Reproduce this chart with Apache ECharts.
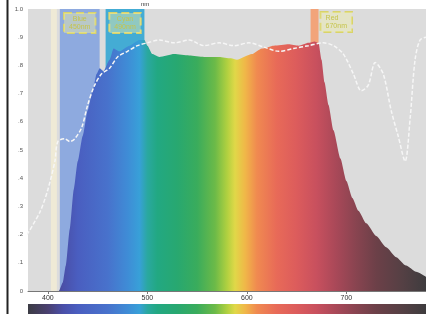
<!DOCTYPE html>
<html>
<head>
<meta charset="utf-8">
<script src="https://cdn.jsdelivr.net/npm/echarts@6/dist/echarts.min.js"></script>
<style>
  html, body { margin: 0; padding: 0; background: #fff; }
  #chart { width: 426px; height: 314px; }
</style>
</head>
<body>
<div id="chart"></div>
<script>
// spectrum (coloured area)
const specNm = [380, 405, 411, 415, 418, 422, 426, 430, 435, 440, 445, 449, 452, 456, 462, 466, 472, 482, 492, 497, 500, 505, 512, 527, 542, 557, 572, 584, 590, 605, 615, 627, 642, 652, 662, 668, 672, 675, 678, 682, 687, 694, 700, 706, 712, 720, 730, 740, 750, 760, 770, 780];
const specVal = [0, 0, 0, 0.03, 0.09, 0.22, 0.36, 0.46, 0.55, 0.64, 0.71, 0.77, 0.79, 0.78, 0.82, 0.86, 0.85, 0.87, 0.89, 0.89, 0.87, 0.84, 0.83, 0.84, 0.835, 0.83, 0.83, 0.825, 0.82, 0.84, 0.86, 0.87, 0.875, 0.87, 0.88, 0.885, 0.88, 0.82, 0.74, 0.66, 0.57, 0.47, 0.39, 0.33, 0.285, 0.24, 0.195, 0.155, 0.12, 0.09, 0.068, 0.05];

// reference curve (white dashed)
const refNm = [379, 392, 400, 407, 410, 417, 422, 427, 434, 440, 447, 454, 462, 470, 480, 490, 500, 512, 527, 542, 557, 572, 587, 602, 617, 632, 647, 662, 677, 687, 697, 707, 715, 722, 729, 737, 745, 752, 759, 764, 769, 774, 780];
const refVal = [0.20, 0.28, 0.36, 0.46, 0.53, 0.54, 0.53, 0.54, 0.58, 0.66, 0.73, 0.77, 0.79, 0.83, 0.85, 0.87, 0.88, 0.89, 0.88, 0.89, 0.87, 0.88, 0.87, 0.88, 0.865, 0.85, 0.86, 0.87, 0.88, 0.87, 0.84, 0.77, 0.71, 0.73, 0.81, 0.77, 0.64, 0.55, 0.46, 0.61, 0.82, 0.89, 0.90];

// highlighted bands
const bandFrom = [403, 412, 458, 664];
const bandTo = [409, 452, 497, 672];
const bandColors = ['#efead6', '#8eaadf', '#44acd4', '#f2a47a'];
const bandText = ['', 'Blue\n450nm', 'Cyan\n490nm', 'Red\n670nm'];

const xTicks = [400, 500, 600, 700];
const yTickLabels = ['0', '.1', '.2', '.3', '.4', '.5', '.6', '.7', '.8', '.9', '1.0'];

const spectrumStops = [
  [0, '#3c3c44'], [0.05, '#4a4070'], [0.0875, '#4a4fa8'], [0.125, '#4a5ec0'],
  [0.2, '#4872cc'], [0.25, '#3f8cd6'], [0.28, '#38a0d8'], [0.3, '#2aa8a0'],
  [0.325, '#22a882'], [0.375, '#28a870'], [0.425, '#3aac5c'], [0.47, '#6cba48'],
  [0.5, '#b0d040'], [0.52, '#e0d848'], [0.545, '#f0b848'], [0.575, '#f08a50'],
  [0.625, '#e86a58'], [0.675, '#dc5c5c'], [0.725, '#c8505e'], [0.775, '#a84858'],
  [0.825, '#884450'], [0.875, '#6c4048'], [0.94, '#554044'], [1, '#3e3c3e']
].map(s => ({ offset: s[0], color: s[1] }));

const gridLeft = 28, gridRight = 0;
const spectrumGrad = () => new echarts.graphic.LinearGradient(gridLeft, 0, 426 - gridRight, 0, spectrumStops, true);

const chart = echarts.init(document.getElementById('chart'));

const bandLabel = (i) => ({
  show: bandText[i] !== '',
  formatter: bandText[i],
  position: i === 3 ? [10, 3] : 'insideTop',
  distance: 4,
  fontSize: 7,
  lineHeight: 8,
  color: '#c6c44a',
  backgroundColor: 'rgba(238,238,170,0.45)',
  borderColor: '#d9d36a',
  borderType: 'dashed',
  borderWidth: 1,
  padding: [2, 5]
});

const option = {
  animation: false,
  grid: {
    left: gridLeft, right: gridRight, top: 9, bottom: 23,
    show: true, backgroundColor: '#dcdcdc', borderWidth: 0
  },
  xAxis: {
    type: 'value', min: 380, max: 780,
    axisLine: { show: true, lineStyle: { color: '#777', width: 1 } },
    axisTick: { show: true, customValues: xTicks, length: 3, lineStyle: { color: '#777' } },
    axisLabel: { customValues: xTicks, fontSize: 7, color: '#333', margin: 4 },
    splitLine: { show: false }
  },
  yAxis: {
    type: 'value', min: 0, max: 1, interval: 0.1,
    axisLine: { show: false },
    axisTick: { show: false },
    axisLabel: { fontSize: 6, color: '#555', margin: 5, formatter: v => yTickLabels[Math.round(v * 10)] },
    splitLine: { show: false }
  },
  series: [
    {
      type: 'line', data: [], z: 1, silent: true,
      markArea: {
        silent: true,
        data: bandFrom.map((f, i) => [
          { xAxis: f, itemStyle: { color: bandColors[i] }, label: bandLabel(i) },
          { xAxis: bandTo[i] }
        ])
      }
    },
    {
      name: 'spectrum', type: 'line', z: 2, showSymbol: false, smooth: 0.2, smoothMonotone: 'x',
      lineStyle: { width: 0 },
      areaStyle: { color: spectrumGrad(), opacity: 1 },
      data: specNm.map((x, i) => [x, specVal[i]])
    },
    {
      name: 'reference', type: 'line', z: 3, showSymbol: false, smooth: 0.3,
      lineStyle: { color: '#f6f6f6', width: 1.5, type: [4, 2] },
      data: refNm.map((x, i) => [x, refVal[i]])
    }
  ],
  graphic: [
    { type: 'rect', shape: { x: gridLeft, y: 304, width: 426 - gridLeft - gridRight, height: 10 }, style: { fill: spectrumGrad() } },
    { type: 'line', shape: { x1: 7.5, y1: 0, x2: 7.5, y2: 314 }, style: { stroke: '#222', lineWidth: 2 } },
    { type: 'text', x: 141, y: 1, style: { text: 'nm', fontSize: 6, fill: '#333' } }
  ]
};

chart.setOption(option);
</script>
</body>
</html>
